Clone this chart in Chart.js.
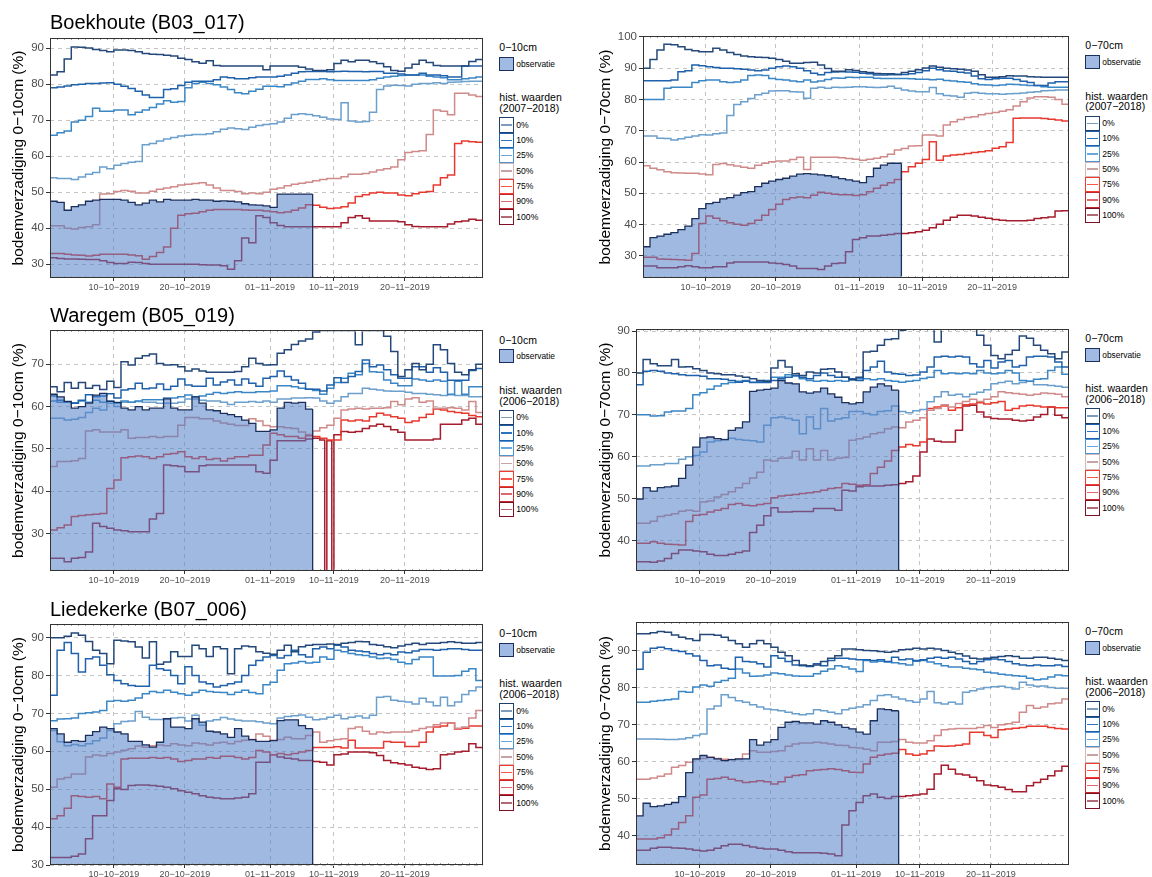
<!DOCTYPE html>
<html>
<head>
<meta charset="utf-8">
<script src="https://cdn.jsdelivr.net/npm/chart.js@4.4.1/dist/chart.umd.min.js"></script>
<style>
  body { margin: 0; background: #fff; font-family: "Liberation Sans", Arial, sans-serif; }
  #page { position: relative; width: 1152px; height: 877px; overflow: hidden; }
  canvas { position: absolute; }
  .txt { position: absolute; white-space: nowrap; color: #000; line-height: 1; }
  .key { position: absolute; box-sizing: border-box; background: #fff; }
  .key i { position: absolute; left: 1px; right: 1px; top: 50%; height: 1.5px; margin-top: -0.75px; }
</style>
</head>
<body>
<div id="page"></div>
<script>
/* shared labels */
const percentLabels = ["0%", "10%", "25%", "50%", "75%", "90%", "100%"];
const xTickDays = [9, 19, 31, 40, 50];
const xTickLabels = ["10−10−2019", "20−10−2019", "01−11−2019", "10−11−2019", "20−11−2019"];
const nDays = 61;

/* Boekhoute 0-10cm */
const boek10_0 = [82.5, 83.4, 87, 90.3, 90.2, 90, 89.6, 89.3, 89.0, 89.5, 89.5, 89.3, 89, 88.5, 88.3, 88.2, 88.0, 87.8, 87.2, 86.8, 86.2, 85.8, 86.5, 85.2, 85, 85, 85, 85, 85, 85, 84, 85, 85, 85, 85, 84.7, 84.2, 83.8, 83.8, 84, 85.7, 86.6, 86.2, 86.6, 86.6, 86.2, 85.7, 84.8, 83.8, 83.6, 84.5, 85.5, 86.6, 86.0, 85.2, 85, 85, 85, 85, 86.3, 86.8];
const boek10_10 = [79, 79.2, 79.5, 79.8, 80, 80.2, 80.2, 80.3, 80.4, 80, 79.4, 78.8, 78, 77, 76.3, 76.3, 78.5, 78.7, 79.6, 80.5, 80.8, 80.8, 80.8, 81.2, 82, 81.8, 81.5, 81.5, 81.8, 82, 82, 82, 82.2, 82.5, 83, 83.4, 83.5, 83.5, 83.5, 83.4, 83.5, 83.6, 83.5, 83.5, 83.4, 83.5, 83.5, 83, 83, 82.8, 82.5, 82.5, 83, 82.5, 82.5, 82.3, 82, 82, 85, 85, 85];
const boek10_25 = [65.8, 66.5, 67, 69.5, 70, 71, 73.3, 72.5, 72.5, 72.8, 72.8, 71.5, 72.2, 72.8, 73.5, 74.5, 75.4, 75, 75.2, 79, 80.2, 80.5, 80.2, 79.8, 79.2, 78.5, 77.6, 77.3, 78, 78.6, 79.4, 79.4, 79.3, 79.8, 80.3, 80.8, 81.3, 81.3, 81.5, 81.2, 81, 81, 81, 81, 81, 81.2, 81.6, 82, 82.2, 82.4, 82.5, 82.5, 82.5, 82.2, 82, 81.8, 81.2, 81.2, 81.5, 81.7, 82];
const boek10_50 = [54, 53.8, 53.8, 53.5, 54.2, 55, 55.5, 57, 56.5, 57.5, 58, 58.3, 58.5, 63.2, 63.5, 64.2, 64.8, 65.2, 65.6, 65.8, 66, 66, 66.2, 66.8, 67.5, 67.8, 67.6, 67.4, 68, 68.5, 68.8, 69, 69.5, 70.5, 71.6, 71.8, 71.6, 71.2, 70.8, 70.3, 70.2, 74.8, 69.8, 69.5, 69.6, 72.2, 78.5, 79.5, 79.7, 79.6, 79.5, 80, 80.2, 80.2, 80.4, 80.2, 80.5, 80.6, 80.7, 80.8, 80.8];
const boek10_75 = [40.7, 40.7, 40, 39.8, 40.2, 40.4, 41, 49.5, 49.6, 50.2, 50.5, 50.3, 49.8, 49.8, 50.3, 50.8, 51.2, 51.5, 52, 52.2, 52.4, 52.6, 52, 51.2, 50.5, 50.5, 50.2, 49.6, 49.8, 49.6, 50, 50.8, 51.2, 51.8, 52.2, 52.5, 52.8, 53.2, 53.5, 53.8, 53.8, 54.3, 55, 55, 55.2, 55.6, 56.2, 56.5, 57, 59, 61, 61.3, 61.5, 66, 72.8, 72.5, 71.5, 77.5, 77.5, 77, 76.6];
const boek10_90 = [33, 33, 32.8, 32.6, 32.5, 32.3, 32.5, 32.8, 32.8, 32.8, 32.8, 32.6, 32.4, 31.4, 32.2, 33.3, 34.8, 40, 43.6, 44, 44.2, 44.6, 45, 45.2, 45.2, 45.2, 45.2, 45.1, 45, 45, 44.8, 44.6, 44.3, 44.5, 45, 45.6, 46.5, 46.4, 45.8, 45.5, 45.6, 46, 47, 48.8, 49.3, 49.8, 50, 49.8, 49.8, 49.2, 49, 49.6, 50, 50.2, 52, 54, 54.8, 63.5, 64.2, 64, 63.9];
const boek10_100 = [31.8, 31.6, 31.5, 31.5, 31.4, 31.3, 31.3, 31, 30.5, 30.2, 30.2, 30.6, 30.5, 30.2, 30, 30, 30, 30, 30, 30, 30, 29.9, 29.8, 29.8, 29.6, 28.6, 31, 37.3, 36, 43.5, 43, 41.5, 40.8, 40.4, 40.4, 40.4, 40.4, 40.4, 40.4, 40.4, 40.4, 41.5, 43, 43.5, 42.8, 42, 42, 42, 42, 41.8, 41, 40.5, 40.4, 40.4, 40.4, 40.4, 41.2, 41.8, 42, 42.5, 42.2];
const boek10_obs = [47.5, 47.2, 45, 46, 46.5, 47.5, 47.8, 48, 48, 48, 47.8, 47.2, 46.5, 47, 47.8, 47.3, 48, 47.8, 47.8, 47.8, 48, 47.8, 47.8, 47.5, 47.6, 47.5, 47.3, 46.8, 46.5, 46.4, 46.2, 45.8, 49.5, 49.5, 49.5, 49.5, 49.5];

/* Boekhoute 0-70cm */
const boek70_0 = [90, 92.8, 95.8, 97.7, 97.5, 96.9, 96, 95.6, 95.3, 95.3, 96.4, 95.8, 95, 94.4, 93.9, 93.7, 93.5, 93.4, 93.2, 92.8, 92.2, 91.6, 91.6, 91.8, 91.9, 91, 89.9, 89, 89, 89.5, 89.3, 88.9, 88.6, 88.3, 88.2, 88.2, 88.1, 88.6, 89, 89.5, 90.1, 90.7, 90.3, 90, 89.8, 89.7, 89.4, 89, 87.9, 87.1, 87.1, 87.3, 87.6, 87.5, 87.5, 87.3, 87.2, 87.1, 87.1, 87.1, 87.1];
const boek70_10 = [86, 86, 86, 86, 86.2, 88.9, 89.2, 91, 90.8, 90.5, 90.2, 90, 90, 89.8, 89.7, 89.4, 89.2, 89.4, 90, 90.5, 90.7, 90.5, 90, 89.2, 88.4, 87.9, 88.6, 88.8, 88.9, 88.8, 88.7, 88.4, 88.2, 87.8, 87.8, 87.9, 87.9, 88, 88.2, 88.6, 89.2, 90, 89.5, 89.1, 89, 88.7, 88.5, 87.5, 86.6, 86.4, 86.6, 86.8, 86.8, 86.4, 85.8, 85.4, 84.5, 84.5, 85.3, 85.7, 85.7];
const boek70_25 = [80, 80, 80, 83.6, 83.9, 83.9, 83.9, 85.4, 86, 86.2, 86.2, 85.7, 85.4, 85.6, 86.2, 87.7, 87.8, 87.7, 86.7, 86.4, 86.2, 85.9, 85.7, 86.2, 85.6, 85.9, 86.4, 86.9, 86.8, 87.1, 87, 87.1, 87.1, 86.8, 86.7, 86.7, 86.7, 86.7, 86.6, 86.5, 86.5, 86.3, 86.5, 86.1, 85.9, 85.7, 85.5, 85, 84.7, 84.6, 84.5, 84.6, 84.9, 84.8, 84.6, 84.5, 84.5, 84.1, 83.9, 83.9, 83.9];
const boek70_50 = [68.3, 68.3, 67.6, 67.5, 67, 67.4, 67.9, 68.3, 68.7, 68.6, 69, 69.3, 74.9, 78.4, 79.3, 80.3, 81.5, 82, 82.7, 82.8, 82.8, 82.5, 82.4, 80.4, 83.6, 83.9, 83.6, 83.9, 83.8, 83.9, 84.1, 84.1, 83.9, 83.8, 83.9, 84.2, 83.6, 83, 82.7, 82.5, 82.5, 83.8, 81.8, 81.3, 81.1, 80.7, 82, 82.2, 82, 81.8, 81.8, 81.7, 81.8, 81.9, 82.1, 82.3, 82.5, 82.8, 82.9, 83, 83];
const boek70_75 = [58.8, 58, 57.5, 56.9, 56.6, 56.5, 56.4, 56.4, 56.2, 55.9, 59.2, 59.5, 59.1, 58.7, 58.3, 58, 59, 59.6, 60.1, 60.3, 60.3, 60.8, 61.5, 57.6, 61.5, 61.5, 61.5, 61.5, 61.4, 61.1, 60.9, 60.6, 60.9, 61.2, 61.7, 62.5, 63.8, 64.3, 65.1, 65.2, 68.6, 68.6, 68.3, 71.8, 72.9, 73.6, 74.2, 74.5, 75.1, 75.5, 75.8, 76.2, 76.7, 77.9, 79.3, 80.5, 80.9, 80.9, 80.7, 80, 78.5];
const boek70_90 = [29.5, 29.5, 29, 28.9, 28.8, 28.7, 28.6, 30.7, 40.3, 42.7, 42, 41.2, 40.6, 40.1, 39.8, 40.3, 41.4, 43, 44.8, 46.5, 48, 48.6, 48.8, 48.6, 49.4, 50.3, 50, 49.7, 49.5, 49.5, 49.3, 49.5, 50.5, 51.6, 52.6, 53.4, 54.4, 56.9, 58.5, 59.6, 60.8, 66.5, 60.6, 61.9, 62.2, 62.4, 62.7, 63, 63.3, 63.6, 64.4, 64.9, 66.2, 74, 74.1, 74.1, 74.1, 73.9, 73.7, 73.4, 73.1];
const boek70_100 = [26.7, 26.7, 26.2, 26.2, 26.2, 26.5, 26.8, 26.5, 26.2, 26.2, 26.5, 26.5, 27.7, 28, 28, 28, 28, 28, 27.7, 27.5, 27.2, 26.7, 25.9, 25.9, 25.9, 25.6, 26.7, 27.5, 27.7, 31.3, 35.2, 35.8, 36.3, 36.3, 36.6, 36.8, 37.1, 37.1, 37.4, 37.7, 38.2, 39, 40.1, 41.4, 42.3, 43, 43, 42.7, 42.3, 42, 41.6, 41.4, 41.2, 41.2, 41.2, 41.4, 41.9, 42.2, 42.4, 44.3, 44.4];
const boek70_obs = [32.9, 35.8, 36.3, 36.9, 37.4, 38.4, 39.5, 41.9, 45.1, 46.7, 47.1, 48.2, 48.6, 49.4, 50.2, 50.5, 52.1, 53.2, 53.9, 54.4, 54.8, 55.5, 56.1, 56.3, 56.1, 55.9, 55.6, 55.2, 54.7, 54.3, 53.9, 53.4, 55.3, 58, 59, 59.6, 59.6];

/* Waregem 0-10cm */
const ware10_0 = [64.7, 63.5, 65.7, 64.3, 65.7, 64.3, 65, 64, 66, 64.5, 70.6, 69.8, 71.4, 72, 72.4, 70.2, 69.8, 69.9, 69.4, 68.4, 68.9, 68.4, 68.1, 68.1, 68.1, 68.1, 68.3, 69.4, 71.4, 70.2, 69.8, 69.9, 72.6, 73.4, 74.7, 75.5, 76, 77.6, 78, 78, 78, 78, 78, 74.6, 78, 78, 78, 76.6, 73, 67.1, 68.7, 70.2, 68.7, 70, 74.6, 73.4, 70.2, 68.1, 67.5, 68.7, 70];
const ware10_10 = [62.5, 61.5, 61, 60.8, 61.5, 62.8, 62.3, 62.5, 63, 62, 63.9, 64.2, 65.5, 64.2, 64.4, 65.3, 64, 64.8, 66.5, 65.1, 64.8, 64.8, 66.7, 65.1, 65.8, 66.3, 65.1, 66.5, 65.5, 64.8, 66.7, 67.1, 68.4, 67.1, 66.3, 65.5, 64.1, 64.1, 63.7, 65.1, 66.8, 65.7, 67.1, 68.3, 71, 69.4, 69.8, 68.7, 67.5, 66.7, 66.7, 69.4, 69.4, 68.1, 69.2, 68.1, 66.2, 66.2, 66.2, 68.5, 69];
const ware10_25 = [61.3, 61, 61, 60.9, 61.3, 61, 61.5, 61, 61.3, 60.8, 61.3, 61, 61.3, 61.6, 61.6, 61.6, 62, 62, 62.3, 62.7, 62.3, 62.5, 62.9, 63.3, 63.1, 63.3, 63.5, 63.3, 63.3, 63.5, 63.5, 63.7, 64.9, 64.9, 64.7, 64.3, 64.1, 63.8, 62.9, 64.3, 65.7, 66.7, 67.9, 67.5, 70.2, 68.2, 68.1, 66.3, 65.5, 64.9, 64.9, 66.5, 66.3, 66, 66.3, 66, 62.9, 66, 62.9, 64.7, 64.7];
const ware10_50 = [57.2, 57.2, 56.8, 57, 57.4, 58.6, 59.6, 59.2, 60.8, 60, 61, 61, 61.2, 61, 61, 60.8, 60.8, 60.8, 61, 61.8, 61.8, 61.5, 61.3, 61.3, 61, 60.5, 61, 61, 61.2, 61, 61.3, 61, 61.8, 61.8, 62, 62, 62.1, 62, 61.3, 60.8, 61.3, 62.3, 63.1, 63.1, 64.3, 64.1, 63.9, 63.7, 63.6, 63.6, 63.4, 63.1, 63.1, 62.9, 62.8, 62.6, 62.8, 62.6, 62.6, 62.3, 62.3];
const ware10_75 = [45.8, 47, 47, 47.2, 47.7, 54.2, 54.5, 54, 54, 54, 54.5, 52.5, 52.7, 52.7, 52.9, 52.7, 52.9, 52.9, 55.6, 57.4, 57.4, 57.1, 57.1, 56.6, 56.1, 55.8, 55.5, 55.5, 57.1, 56.6, 55.5, 55.2, 55.2, 55, 54.8, 54, 53.4, 54.2, 55, 55.6, 57.2, 59.2, 59.4, 59.6, 59.4, 59.6, 59.6, 59.7, 61.2, 60.4, 61.8, 62.1, 61, 61.3, 59.6, 59.6, 59.7, 59.6, 59.2, 61.2, 58.6];
const ware10_90 = [30.8, 31.3, 32, 34, 34.2, 34.4, 34.5, 34.7, 40.6, 42.6, 47.9, 48.1, 48.3, 48.1, 47.7, 48.1, 48.7, 48.9, 49.3, 48.1, 47.7, 48.1, 47.5, 47.7, 47.1, 47.7, 48.1, 48.1, 48.5, 48.5, 50.9, 53.7, 53.3, 52.9, 52.9, 52.5, 53.1, 52.9, 52.5, 52.1, 52.1, 56.8, 56.6, 56.8, 56.6, 57.6, 58.4, 58, 57.6, 57.2, 56.2, 56.6, 57.4, 58.2, 59.4, 59.2, 58.8, 58.6, 58.4, 57.9, 57.6];
const ware10_100 = [24.1, 24.1, 23.3, 24.1, 24.3, 25.6, 32.4, 31.6, 31.2, 30.8, 30.6, 30.4, 30.4, 30.4, 33.4, 34.7, 46.2, 46, 45.8, 44.6, 44.6, 46, 46.2, 46.2, 46.2, 46.2, 46.2, 46.2, 46.2, 44.6, 44.2, 47.3, 51.9, 51.9, 51.9, 51.9, 52.3, 52.5, 52.1, 51.9, 53.3, 54.1, 53.9, 54.1, 54.8, 55.4, 55.8, 55.3, 54.5, 53.9, 52.1, 52.1, 52.1, 52.1, 52.3, 55.8, 55.8, 55.8, 56.8, 57.2, 55.8];
const ware10_obs = [62.9, 62.3, 61.2, 59.6, 60, 60.8, 62.7, 63.1, 61.2, 61, 59.6, 59.2, 60, 59.2, 59.6, 59.6, 61.8, 59.6, 59.2, 59.2, 62.3, 60.8, 59.2, 59, 58.4, 58.1, 57.6, 56.8, 56, 54.1, 54.1, 54.5, 59.6, 61, 60.8, 61, 59.4];
// short drops of the 100% line to zero (start day, lasting to the next whole day)
const ware10_dropDays = [38.7, 39.7];
const dropValue = 0;

/* Waregem 0-70cm */
const ware70_0 = [80, 83.2, 82.2, 81.7, 81.7, 83.2, 81.4, 81.5, 81, 80.6, 80, 79.8, 79.6, 79.6, 79.3, 79, 78.6, 78.2, 78, 81.2, 83, 81.4, 79.8, 79.4, 80.2, 80, 80.9, 81, 80.2, 79, 78.4, 79, 85, 85.2, 86.6, 88, 88.2, 90.2, 90.5, 90.5, 90.5, 90.5, 87.4, 90.5, 90.5, 90.5, 90.5, 90.5, 89, 86.6, 84.2, 83.4, 84.4, 85.4, 88.8, 88.3, 86.6, 85.4, 84.6, 83.4, 85];
const ware70_10 = [77.2, 80.4, 80.6, 80.4, 80, 79.8, 79.6, 79.4, 79.4, 79.2, 78.6, 78.6, 78.5, 78.2, 77.8, 78, 77.7, 77.7, 77.7, 78.2, 78.6, 79, 79.4, 79, 78.6, 79.4, 80, 79.4, 79, 79, 78.6, 78.2, 80.6, 81.4, 82.8, 80.2, 79.8, 79.7, 79.4, 79.5, 80.2, 81.4, 83.8, 84, 83.8, 84, 83.8, 82.2, 81.4, 83, 81.2, 82.6, 83, 81.4, 81.8, 83.8, 84, 84, 83.8, 82.6, 81.4];
const ware70_25 = [70, 70, 69.7, 69.8, 70.7, 70.9, 70.9, 71.5, 74.8, 75.3, 76.1, 76.9, 77.4, 77.7, 78, 78.2, 77.8, 78, 78.2, 79, 79, 79.6, 79.3, 78.6, 78.2, 78, 78.2, 78, 78.2, 78, 78.4, 78.6, 78.6, 78.4, 78.6, 78.2, 78, 77.8, 78, 78.2, 78.7, 79, 80.6, 79.8, 80, 79.8, 80, 79.8, 80.6, 80, 79.8, 80, 80.6, 80, 78.2, 78, 78.5, 78.6, 80.6, 81.4, 79.7];
const ware70_50 = [57.8, 57.8, 58.1, 58.1, 58.4, 58.4, 59.4, 60, 60.3, 61.1, 63.5, 63.8, 64.1, 64.4, 64.1, 63.9, 63.8, 63.5, 67.5, 69.3, 69.5, 69.1, 68.7, 65.5, 69.5, 66.7, 71.5, 68.5, 69, 69.3, 70.8, 70.8, 70.3, 70, 70.8, 71, 72.1, 70.8, 70.5, 71, 71.3, 73.1, 74.3, 75.5, 74.7, 74.9, 74.3, 74.9, 75.4, 76, 77.4, 77.7, 78, 77.4, 77.7, 78, 77.2, 77.2, 77, 76.8, 76.6];
const ware70_75 = [44.1, 44.1, 44.6, 45.7, 46, 46.4, 47, 47.2, 47, 49.2, 49.4, 50.4, 51, 51.6, 52.6, 53.6, 54.9, 56.3, 59.2, 59, 59.6, 59.7, 61.3, 59.2, 61.9, 59.2, 61.5, 59.2, 59.6, 59.8, 63.9, 64.3, 64.7, 65.5, 65.8, 66.7, 67.1, 66.9, 68.3, 68.7, 69.3, 71.1, 71.5, 72.4, 71.9, 72.7, 73.2, 73.7, 73.2, 73.7, 74.3, 75.5, 75.3, 75.1, 74.9, 74.7, 74.9, 75.2, 75.1, 74.9, 74.3];
const ware70_90 = [39.3, 39.3, 39.7, 39.3, 39.1, 39, 38.9, 44.5, 46, 46.2, 46.8, 47.2, 47.6, 48.6, 48.8, 48.4, 48.3, 48.6, 48.8, 50.2, 50.6, 50.8, 51, 51.2, 51.4, 51.6, 52, 52.4, 52.6, 53.6, 53.4, 53.2, 53.3, 56, 57.5, 59, 61.5, 62.3, 62.9, 62.6, 63.5, 71.5, 71.9, 72.1, 71.1, 71.7, 72.4, 72.6, 72.9, 72.6, 72.9, 73.2, 71.1, 71.5, 72.1, 72.3, 72.1, 71.9, 71.9, 71.7, 71.7];
const ware70_100 = [34.9, 34.9, 34.8, 35.1, 35.7, 36.9, 37.7, 37.7, 37.5, 37.3, 36.7, 36.4, 36.4, 36.7, 37.1, 37.5, 41.9, 43.6, 45.9, 47.8, 46.8, 46.8, 46.9, 46.9, 46.9, 47.6, 47.6, 47.6, 47.2, 52, 51.8, 52.8, 53, 53, 53, 53.2, 53.3, 53.6, 54, 55.4, 61.1, 64.2, 63.7, 63.5, 63.5, 66.3, 72.1, 72.3, 70.7, 69.5, 69.1, 69, 69, 68.7, 68.5, 68.7, 69.5, 70.1, 71.9, 69.9, 69.3];
const ware70_obs = [49.9, 52.6, 51.8, 52.6, 52.8, 53, 54.8, 58, 62.3, 64.5, 64.7, 64.3, 64.1, 66.3, 66.9, 68.3, 75.6, 75.9, 76.1, 76.4, 78.2, 77.6, 77.4, 75.5, 75.2, 75.5, 76.4, 75, 74.2, 72.9, 72.6, 72.9, 75.5, 76.6, 77.4, 76.9, 75.9];

/* Liedekerke 0-10cm */
const lied10_0 = [90, 90, 90.4, 91.2, 90.6, 89, 86.7, 85.8, 83.1, 89.3, 89.1, 88.9, 87.5, 84.6, 88.9, 83, 83.6, 86.3, 85, 85, 88, 87.1, 85, 87.6, 87.1, 80.5, 87.1, 87.8, 87.6, 86.3, 85.9, 85.6, 86.7, 88, 86.3, 87.6, 88, 88.2, 88.2, 88.3, 88.2, 88.5, 88.7, 89, 88.9, 88.2, 88, 87.6, 87.3, 87.8, 88.2, 88.5, 88.2, 88.5, 88.5, 88.7, 88.9, 88.7, 88.5, 88.5, 88.7];
const lied10_10 = [74.8, 86.7, 88.7, 85.8, 80.9, 84.4, 84.9, 82.7, 80.2, 78.7, 77.8, 77.4, 77.2, 77.2, 82.7, 81.8, 81.4, 80, 77.8, 82.3, 80, 78.3, 77.8, 77, 77.4, 77.8, 78.3, 80, 82.7, 84, 84.9, 85.3, 84.6, 85.3, 86.7, 85.5, 84.9, 87.1, 87.5, 87.1, 88, 87.5, 86.7, 86.5, 86.3, 85.8, 85.5, 85.8, 85.5, 86.2, 86, 86.5, 86.9, 86.9, 86.7, 86.9, 87.1, 87.1, 86.9, 86.7, 86.7];
const lied10_25 = [68.1, 68.5, 68.6, 68.8, 70, 70.2, 70.4, 70.8, 73.2, 73.4, 73.2, 73.5, 74.1, 75.2, 75.8, 75.5, 76.1, 75.6, 75.2, 74.8, 75.5, 76.1, 75.8, 75.6, 75.5, 75, 75.6, 76.1, 75.5, 75.2, 77.6, 78.2, 81.4, 83.1, 83.3, 83.7, 83.3, 83.5, 84.9, 84.3, 86.7, 86.3, 85.8, 85.5, 85.3, 84.9, 84.5, 84.6, 84.2, 83.5, 83.1, 84.2, 84.9, 84.9, 79.9, 79.9, 79.9, 80, 81.1, 81.8, 78.7];
const lied10_50 = [65.5, 62.5, 61.5, 61.8, 61.5, 62, 62.8, 63.5, 65.5, 67.3, 67.9, 68, 70.5, 69, 68.4, 68.4, 68.6, 68.8, 68.9, 68, 69.5, 66.9, 68, 68.3, 68.9, 68.5, 68.2, 68, 68, 67.8, 67.5, 67.3, 68.8, 69.2, 69.4, 69.6, 69, 68.3, 68.5, 69, 69.5, 68.6, 69, 69.3, 68.8, 69.5, 74.3, 74.5, 73.5, 73.2, 73, 72.5, 74, 73, 72, 74.3, 72, 73, 75, 76, 77];
const lied10_75 = [50.5, 52.7, 53.1, 54, 54, 58.5, 59, 58.8, 59.4, 59.8, 60.3, 60.7, 61.4, 61.1, 61.5, 61.7, 61.5, 62, 61.7, 61.5, 62.2, 62, 61.7, 62.2, 62.4, 62, 62.6, 62.9, 63.1, 64.6, 64, 62.9, 63.1, 63.7, 63.3, 63.3, 64.2, 65.1, 62.4, 62.8, 63.1, 63.3, 66, 66.4, 65.3, 64.6, 65.1, 64.9, 65.1, 65.1, 65.1, 65.5, 66, 66.4, 67, 67.5, 67.5, 66.1, 66.4, 68.8, 70.8];
const lied10_90 = [42.2, 43, 45, 48.3, 48.1, 47.9, 48.1, 47.5, 51.4, 50.5, 58, 58.2, 58.2, 58.2, 58.4, 58.2, 58.4, 58, 57.3, 57.6, 58, 58, 58.4, 58.2, 58.7, 58.7, 58.4, 58, 58.4, 60.2, 59.8, 59.1, 59.4, 59.1, 59.4, 59.8, 60.2, 61, 61, 61, 61.2, 60.9, 62.9, 60.9, 60.9, 60.9, 60.9, 62.6, 62.4, 62.4, 61.3, 61.3, 62.4, 65.1, 66.4, 66.7, 67.5, 65.9, 66.1, 66.7, 66.7];
const lied10_100 = [32, 32, 32, 32.3, 32.9, 36.9, 43, 43, 47, 50.1, 49.9, 51, 51.1, 51.1, 51, 50.8, 50.5, 50.1, 49.6, 49.2, 48.8, 48.3, 47.9, 47.7, 47.5, 47.5, 47.7, 47.9, 48.8, 57.1, 57.1, 59.1, 58.5, 58.2, 58, 57.6, 57.6, 57.3, 57.1, 56.4, 59.1, 59.3, 59.8, 59.8, 59.8, 59.6, 58.9, 57.6, 57, 56.7, 56.4, 55.8, 55.5, 55.2, 55.4, 59.1, 59.3, 59.8, 60, 62, 61];
const lied10_obs = [66, 64.6, 62.4, 62.8, 62.6, 64.2, 65.2, 66.4, 66, 65.1, 64.6, 62.6, 62.6, 61.7, 61.1, 62.4, 68.6, 66.4, 66.4, 66, 68.6, 67.7, 65.3, 65.1, 64.6, 63.7, 66, 64, 63.1, 62.6, 62.6, 62.8, 68.1, 68.3, 68.3, 66.8, 66];

/* Liedekerke 0-70cm */
const lied70_0 = [94.6, 94.6, 94.9, 95.2, 95, 94.3, 93.7, 93.3, 92.8, 94.4, 94.4, 94.2, 93.7, 92.8, 91.9, 91, 91.9, 92.8, 91.9, 91, 89.6, 88.7, 87.4, 86.2, 86, 86.2, 87.1, 88, 88.7, 90.5, 90.5, 90.3, 90.1, 90, 89.8, 89.6, 89.8, 90.3, 90.4, 90.7, 90.5, 90.7, 90.5, 90.1, 89.6, 89.2, 88.6, 88, 87.8, 88, 88.3, 88.5, 88.7, 88.5, 88, 88, 88.3, 88.3, 88, 87.7, 87.4];
const lied70_10 = [85, 89.6, 90.7, 91, 90.6, 90.1, 89.8, 89.2, 88.6, 87.4, 86, 86.2, 85.3, 85, 88.3, 87.1, 87, 86.5, 85.6, 88.7, 88, 87.1, 86.2, 86, 85.8, 86.5, 86, 87.4, 88, 88, 87.8, 87.6, 87.6, 87.4, 87.6, 87.1, 88.3, 87.6, 87.8, 87.4, 87.6, 88, 88.3, 88, 88.3, 87.8, 87.1, 86.5, 87.1, 87.6, 87.8, 87.6, 87.1, 86.5, 86.2, 86, 86.2, 86, 86, 86.2, 85.8];
const lied70_25 = [76.1, 76.1, 76.4, 76.6, 76.8, 77, 79, 78.8, 80.2, 80.8, 80.4, 81.5, 82, 82.6, 85.1, 84, 83.1, 83.2, 83.5, 84, 83.8, 83.5, 83.2, 83.1, 83.1, 83.8, 84.5, 85.1, 86, 85.6, 85.1, 84.4, 87.4, 87, 87.2, 87, 86.8, 86.5, 86.2, 87.2, 87.4, 87, 86.5, 86, 85.6, 85.6, 85.3, 85.1, 84.9, 84.2, 84, 83.7, 83.5, 83.3, 83.1, 82.6, 82.2, 82.4, 82.9, 83.5, 83.3];
const lied70_50 = [66.2, 66.2, 66.2, 66.1, 66, 66, 66.2, 66.5, 67.1, 67.5, 74.3, 75.1, 78.1, 77.4, 76.5, 76.1, 75.4, 74.8, 74.3, 74.1, 73.8, 73.4, 73, 72.7, 73, 74.1, 73.8, 73.4, 73, 74.1, 74.5, 74.8, 75.4, 76.6, 77.9, 78.1, 77.5, 77, 76.5, 76.1, 77, 79, 76, 75.6, 76.1, 75.6, 78.8, 79.2, 79.7, 80.1, 80.3, 80.4, 80.1, 79.7, 81.5, 80.8, 80.4, 80.5, 80.1, 79.9, 79.9];
const lied70_75 = [55.3, 55.3, 55.6, 56.1, 56.7, 58.5, 59, 59.9, 60.6, 60.9, 61.2, 60.9, 60.7, 60.6, 60.6, 62.1, 63, 62.6, 62.6, 62.8, 63, 64.2, 64.8, 65.1, 65.1, 65.3, 65.1, 64.8, 64.5, 64.4, 63.9, 63.7, 63.4, 63, 65.3, 65.3, 65.5, 66, 65.3, 65.1, 65.1, 65.7, 67.1, 68.7, 68.9, 69, 69, 69, 69.3, 69.8, 69.3, 70, 70.3, 70.7, 73.4, 75.2, 74.5, 74.8, 75.7, 75.9, 77];
const lied70_90 = [39.1, 39.1, 39.1, 39.5, 40.2, 41.8, 43.6, 45.4, 50.4, 51, 55.3, 55.5, 55.8, 55.3, 54.9, 54.4, 54.6, 54.9, 54.6, 54, 54.6, 55.8, 56.3, 56.5, 57.6, 57.8, 57.9, 58.1, 57.9, 57.6, 57.2, 57.1, 59.4, 61.2, 61.8, 62.1, 62.3, 63.3, 62.1, 61.8, 62.1, 63, 64.3, 64.2, 64.3, 64.5, 64.8, 68, 68, 67.1, 66.6, 68.7, 68.9, 69.1, 69.3, 69.6, 69.6, 69.6, 69.3, 69, 68.9];
const lied70_100 = [36.1, 36.1, 36.6, 36.9, 36.9, 36.7, 36.6, 36.4, 36.1, 35.9, 36.1, 36.6, 37.3, 37.7, 37.7, 37.4, 37, 36.6, 36.4, 36.4, 36.1, 35.7, 35.4, 35.4, 35.4, 35.4, 35.3, 35.1, 34.6, 42.9, 46.8, 49, 50.8, 51.3, 50.4, 50.1, 50.6, 50.6, 50.8, 51, 51.3, 52.6, 56.7, 59.1, 58, 56.7, 56.4, 55.8, 54.9, 53.7, 53.5, 53.1, 52.5, 51.9, 51.9, 53.5, 54.4, 55.3, 56.2, 57.5, 58.8];
const lied70_obs = [45.4, 48.8, 47.9, 48.1, 48.5, 49, 50.6, 57.1, 60.8, 61.7, 61.2, 60.8, 60.3, 60.6, 60.8, 60.8, 66, 64.5, 65.3, 66, 69.3, 70.7, 70.9, 70.5, 70.5, 70.2, 71.1, 70.7, 70, 69.3, 68.9, 68, 67.5, 71.1, 74.3, 74.1, 73.8];

/* colours */
const lineColors = ["#24487a", "#1f62ab", "#3b87c6", "#6b9fcc", "#d08a8a", "#e8392e", "#a51c2c"];
const keyBorders = ["#1f3f6b", "#1d5fae", "#4b96d2", "#d6b7b7", "#f03b2d", "#c6262d", "#7d1022"];
const keyLines = ["#7f9cbd", "#2f72bd", "#6aa8dc", "#c7a3a3", "#f4584a", "#d96a6e", "#b06a75"];
const obsLine = "#1b2f5c";
const obsFill = "rgba(82, 128, 200, 0.55)";
const fontFamily = "'Liberation Sans', Arial, sans-serif";

const panels = [
  { side: "left", l: 50, t: 37.7, r: 483.3, b: 278, min: 26.2, max: 92.8, yTicks: [30, 40, 50, 60, 70, 80, 90],
    depth: "0−10cm", years: "(2007−2018)", title: "Boekhoute (B03_017)", titleTop: 12.4,
    series: [boek10_0, boek10_10, boek10_25, boek10_50, boek10_75, boek10_90, boek10_100], obs: boek10_obs },
  { side: "right", l: 643, t: 36, r: 1069, b: 278, min: 22.9, max: 100.3, yTicks: [30, 40, 50, 60, 70, 80, 90, 100],
    depth: "0−70cm", years: "(2007−2018)",
    series: [boek70_0, boek70_10, boek70_25, boek70_50, boek70_75, boek70_90, boek70_100], obs: boek70_obs },
  { side: "left", l: 50, t: 330.3, r: 483.3, b: 571, min: 21.1, max: 78.1, yTicks: [30, 40, 50, 60, 70],
    depth: "0−10cm", years: "(2006−2018)", title: "Waregem (B05_019)", titleTop: 305.4,
    series: [ware10_0, ware10_10, ware10_25, ware10_50, ware10_75, ware10_90, ware10_100], obs: ware10_obs, drops: ware10_dropDays },
  { side: "right", l: 636, t: 328.7, r: 1069, b: 571, min: 32.7, max: 90.5, yTicks: [40, 50, 60, 70, 80, 90],
    depth: "0−70cm", years: "(2006−2018)",
    series: [ware70_0, ware70_10, ware70_25, ware70_50, ware70_75, ware70_90, ware70_100], obs: ware70_obs },
  { side: "left", l: 50, t: 623.7, r: 483.3, b: 864.3, min: 30, max: 93.6, yTicks: [30, 40, 50, 60, 70, 80, 90],
    depth: "0−10cm", years: "(2006−2018)", title: "Liedekerke (B07_006)", titleTop: 598.8,
    series: [lied10_0, lied10_10, lied10_25, lied10_50, lied10_75, lied10_90, lied10_100], obs: lied10_obs },
  { side: "right", l: 636, t: 621.7, r: 1069, b: 864.3, min: 32.1, max: 97.8, yTicks: [40, 50, 60, 70, 80, 90],
    depth: "0−70cm", years: "(2006−2018)",
    series: [lied70_0, lied70_10, lied70_25, lied70_50, lied70_75, lied70_90, lied70_100], obs: lied70_obs }
];

const page = document.getElementById("page");

function stepPoints(values, drops) {
  let pts = values.map((v, i) => ({ x: i, y: v }));
  pts.push({ x: values.length, y: values[values.length - 1] });
  if (drops) {
    drops.forEach((d) => pts.push({ x: d, y: dropValue }));
    pts.sort((a, b) => a.x - b.x);
  }
  return pts;
}

/* plot frame, daily minor ticks and right edge of the observation area */
const framePlugin = {
  id: "frame",
  afterDatasetsDraw(chart) {
    const { ctx, chartArea: a } = chart;
    const x = chart.scales.x;
    ctx.save();
    const meta = chart.getDatasetMeta(0);
    const last = meta.data[meta.data.length - 1];
    ctx.strokeStyle = obsLine;
    ctx.lineWidth = 1.3;
    ctx.beginPath();
    ctx.moveTo(last.x, last.y);
    ctx.lineTo(last.x, a.bottom);
    ctx.stroke();

    ctx.strokeStyle = "#a0a0a0";
    ctx.lineWidth = 1;
    ctx.beginPath();
    for (let d = 1; d < nDays; d++) {
      const px = Math.round(x.getPixelForValue(d)) + 0.5;
      ctx.moveTo(px, a.bottom);
      ctx.lineTo(px, a.bottom - 2);
      ctx.moveTo(px, a.top);
      ctx.lineTo(px, a.top + 2);
    }
    ctx.stroke();

    ctx.strokeStyle = "#333333";
    ctx.lineWidth = 1;
    ctx.strokeRect(Math.round(a.left) + 0.5, Math.round(a.top) + 0.5, Math.round(a.width) - 1, Math.round(a.height) - 1);
    ctx.restore();
  }
};

function addText(str, x, centreY, size) {
  const el = document.createElement("div");
  el.className = "txt";
  el.textContent = str;
  el.style.left = x + "px";
  el.style.top = (centreY - 0.49 * size) + "px";
  el.style.fontSize = size + "px";
  page.appendChild(el);
}

function addLegend(p) {
  const x = p.side === "left" ? 499.3 : 1085.3;
  const t = p.t;
  addText(p.depth, x, t + 9.6, 10.5);
  const ok = document.createElement("div");
  ok.className = "key";
  Object.assign(ok.style, { left: x + "px", top: (t + 19) + "px", width: "14.7px", height: "14px",
    background: "rgb(160,186,228)", border: "1px solid " + obsLine });
  page.appendChild(ok);
  addText("observatie", x + 17, t + 26, 8.4);
  addText("hist. waarden", x, t + 59.8, 10.5);
  addText(p.years, x, t + 70.6, 10.5);
  const keyH = 15.33;
  percentLabels.forEach((lab, i) => {
    const top = t + 79.6 + i * keyH;
    const k = document.createElement("div");
    k.className = "key";
    Object.assign(k.style, { left: x + "px", top: top + "px", width: "14.7px", height: keyH + "px",
      border: "1.3px solid " + keyBorders[i] });
    const ln = document.createElement("i");
    ln.style.background = keyLines[i];
    k.appendChild(ln);
    page.appendChild(k);
    addText(lab, x + 17, top + keyH / 2, 8.6);
  });
}

function makeChart(p) {
  const left = p.side === "left" ? 0 : 587;
  const top = p.t - 10;
  const canvas = document.createElement("canvas");
  canvas.width = Math.round(p.r + 4 - left);
  canvas.height = Math.round(p.b + 24 - top);
  canvas.style.left = left + "px";
  canvas.style.top = top + "px";
  page.appendChild(canvas);

  let datasets = [{
    label: "observatie",
    data: stepPoints(p.obs),
    borderColor: obsLine,
    backgroundColor: obsFill,
    borderWidth: 1.3,
    fill: "start",
    stepped: true,
    pointRadius: 0
  }];
  p.series.forEach((vals, i) => {
    datasets.push({
      label: percentLabels[i],
      data: stepPoints(vals, i === 6 ? p.drops : null),
      borderColor: lineColors[i],
      borderWidth: 1.5,
      fill: false,
      stepped: true,
      pointRadius: 0
    });
  });

  const yWidth = p.l - left;
  new Chart(canvas, {
    type: "line",
    data: { datasets: datasets },
    options: {
      responsive: false,
      animation: false,
      events: [],
      layout: { padding: { left: 0, top: 10, right: Math.round(p.r + 4 - left) - Math.round(p.r - left), bottom: 0 } },
      plugins: { legend: { display: false }, tooltip: { enabled: false } },
      scales: {
        x: {
          type: "linear",
          min: 0,
          max: nDays,
          afterBuildTicks: (s) => { s.ticks = xTickDays.map((v) => ({ value: v })); },
          afterFit: (s) => { s.height = 24; },
          ticks: {
            autoSkip: false,
            maxRotation: 0,
            padding: 1.5,
            color: "#4d4d4d",
            font: { family: fontFamily, size: 9 },
            callback: (v, i) => xTickLabels[i]
          },
          grid: { color: "#c4c4c4", lineWidth: 1, tickLength: 3, tickColor: "#333333", tickBorderDash: [] },
          border: { display: false, dash: [4, 4] }
        },
        y: {
          min: p.min,
          max: p.max,
          afterBuildTicks: (s) => { s.ticks = p.yTicks.map((v) => ({ value: v })); },
          afterFit: (s) => { s.width = yWidth; },
          title: {
            display: true,
            text: "bodemverzadiging " + p.depth + " (%)",
            color: "#000",
            font: { family: fontFamily, size: 15.5 },
            padding: { top: 9, bottom: 0 }
          },
          ticks: { autoSkip: false, padding: 2, color: "#4d4d4d", font: { family: fontFamily, size: 11.5 } },
          grid: { color: "#c4c4c4", lineWidth: 1, tickLength: 4, tickColor: "#333333", tickBorderDash: [] },
          border: { display: false, dash: [4, 4] }
        }
      }
    },
    plugins: [framePlugin]
  });

  if (p.title) {
    const el = document.createElement("div");
    el.className = "txt";
    el.textContent = p.title;
    el.style.left = "50px";
    el.style.top = p.titleTop + "px";
    el.style.fontSize = "20px";
    page.appendChild(el);
  }
  addLegend(p);
}

panels.forEach(makeChart);
</script>
</body>
</html>
